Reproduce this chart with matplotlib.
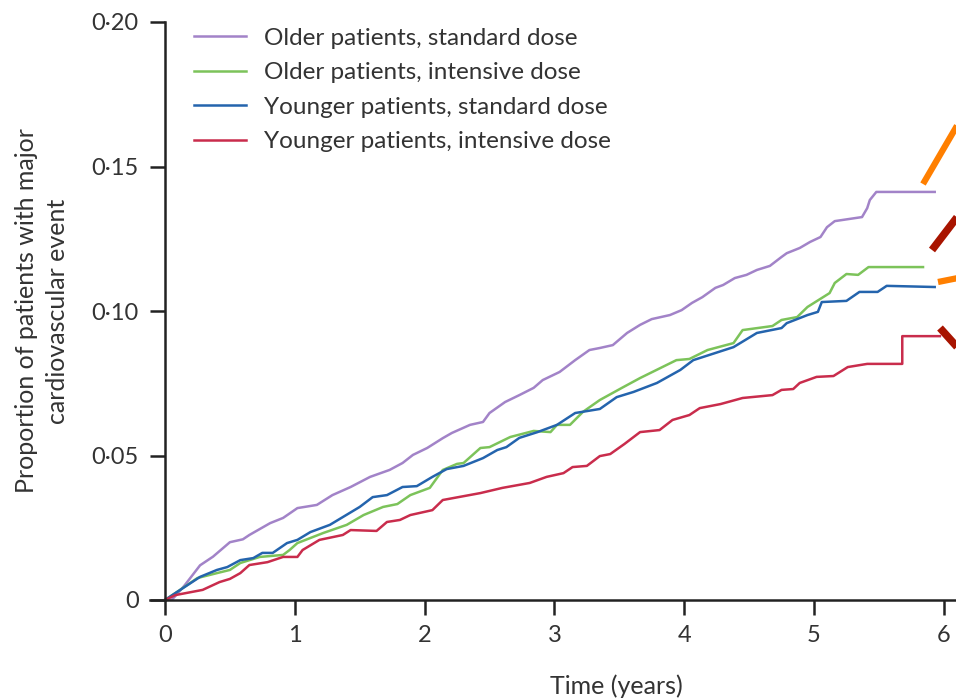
import matplotlib.pyplot as plt
from matplotlib.lines import Line2D

plt.rcParams['font.family'] = ['Lato', 'DejaVu Sans']

# Kaplan-Meier style curves (time in years, proportion)
older_std_t = [0, 0.05, 0.08, 0.15, 0.27, 0.37, 0.50, 0.60, 0.65, 0.81, 0.91, 1.02, 1.17, 1.29, 1.43, 1.58,
               1.73, 1.83, 1.91, 2.02, 2.14, 2.21, 2.35, 2.45, 2.50, 2.62, 2.73, 2.84, 2.91, 3.04, 3.16, 3.27,
               3.35, 3.45, 3.56, 3.66, 3.75, 3.89, 3.98, 4.06, 4.14, 4.24, 4.30, 4.39, 4.48, 4.56, 4.66, 4.75,
               4.79, 4.89, 4.97, 5.05, 5.10, 5.16, 5.37, 5.41, 5.43, 5.48, 5.93]
older_std_p = [0, 0, 0.0014, 0.005, 0.012, 0.015, 0.020, 0.021, 0.0225, 0.0266, 0.0284, 0.0318, 0.0329, 0.0363,
               0.0391, 0.0426, 0.045, 0.0474, 0.0502, 0.0526, 0.056, 0.0578, 0.0606, 0.0616, 0.0647, 0.0685,
               0.0709, 0.0734, 0.0761, 0.0789, 0.083, 0.0865, 0.0872, 0.0882, 0.0924, 0.0952, 0.0972, 0.0986,
               0.1003, 0.1028, 0.1048, 0.108, 0.109, 0.1114, 0.1125, 0.1142, 0.1156, 0.1187, 0.120, 0.1218,
               0.1239, 0.1256, 0.129, 0.1311, 0.1325, 0.1356, 0.1384, 0.1412, 0.1412]

older_int_t = [0, 0.08, 0.25, 0.40, 0.50, 0.58, 0.73, 0.91, 0.96, 1.02, 1.22, 1.40, 1.53, 1.68, 1.79, 1.89,
               2.04, 2.14, 2.25, 2.30, 2.43, 2.50, 2.66, 2.84, 2.97, 3.02, 3.12, 3.22, 3.35, 3.52, 3.66, 3.80,
               3.94, 4.04, 4.18, 4.38, 4.45, 4.68, 4.75, 4.87, 4.95, 5.12, 5.16, 5.25, 5.34, 5.42, 5.84]
older_int_p = [0, 0.0024, 0.0076, 0.0093, 0.0104, 0.0128, 0.0149, 0.0156, 0.0173, 0.0197, 0.0232, 0.026,
               0.0294, 0.0322, 0.0332, 0.0363, 0.0388, 0.045, 0.0471, 0.0474, 0.0526, 0.0529, 0.0564, 0.0585,
               0.0581, 0.0606, 0.0606, 0.0651, 0.0692, 0.0734, 0.0768, 0.0799, 0.083, 0.0834, 0.0865, 0.0889,
               0.0934, 0.0948, 0.0969, 0.0979, 0.1014, 0.1062, 0.1097, 0.1128, 0.1125, 0.1152, 0.1152]

young_std_t = [0, 0.08, 0.27, 0.40, 0.48, 0.58, 0.68, 0.75, 0.83, 0.94, 1.02, 1.12, 1.27, 1.50, 1.60, 1.71,
               1.83, 1.94, 2.06, 2.17, 2.30, 2.45, 2.56, 2.63, 2.73, 2.87, 3.02, 3.16, 3.35, 3.48, 3.61, 3.79,
               3.97, 4.07, 4.38, 4.56, 4.75, 4.79, 4.95, 5.03, 5.06, 5.25, 5.35, 5.49, 5.56, 5.93]
young_std_p = [0, 0.0024, 0.008, 0.0104, 0.0114, 0.0138, 0.0145, 0.0163, 0.0163, 0.0197, 0.0208, 0.0235,
               0.026, 0.0322, 0.0356, 0.0363, 0.0391, 0.0394, 0.0426, 0.0453, 0.0464, 0.0491, 0.0519, 0.0529,
               0.0561, 0.0581, 0.0606, 0.0647, 0.0661, 0.0702, 0.072, 0.0751, 0.0796, 0.083, 0.0875, 0.0924,
               0.0941, 0.0958, 0.0986, 0.0997, 0.1031, 0.1035, 0.1066, 0.1066, 0.1087, 0.1083]

young_int_t = [0, 0.08, 0.29, 0.42, 0.50, 0.58, 0.65, 0.79, 0.91, 1.02, 1.06, 1.19, 1.37, 1.43, 1.63, 1.71,
               1.81, 1.89, 2.06, 2.14, 2.43, 2.60, 2.81, 2.94, 3.07, 3.14, 3.25, 3.35, 3.43, 3.54, 3.66, 3.81,
               3.91, 4.04, 4.12, 4.28, 4.45, 4.68, 4.75, 4.84, 4.89, 5.02, 5.15, 5.26, 5.41, 5.68, 5.68, 5.97]
young_int_p = [0, 0.0017, 0.0035, 0.0062, 0.0073, 0.0093, 0.0121, 0.0131, 0.0149, 0.0149, 0.0173, 0.0208,
               0.0225, 0.0242, 0.0239, 0.027, 0.0277, 0.0294, 0.0311, 0.0346, 0.037, 0.0388, 0.0405, 0.0426,
               0.0439, 0.046, 0.0464, 0.0498, 0.0505, 0.054, 0.0581, 0.0588, 0.0623, 0.064, 0.0664, 0.0678,
               0.0699, 0.0709, 0.0727, 0.073, 0.0751, 0.0772, 0.0775, 0.0806, 0.0817, 0.0817, 0.0913, 0.0913]

labels = ['Older patients, standard dose', 'Older patients, intensive dose',
          'Younger patients, standard dose', 'Younger patients, intensive dose']
colors = ['#a283c8', '#7cc35a', '#2464ad', '#c92c4c']
xticks = [0, 1, 2, 3, 4, 5, 6]
yticks = [0, 0.05, 0.10, 0.15, 0.20]
ytick_labels = ['0', '0·05', '0·10', '0·15', '0·20']

fig = plt.figure(figsize=(9.56, 6.99), dpi=100)
ax = fig.add_axes([150 / 956, 99 / 699, 806 / 956, 578 / 699])

series = [(older_std_t, older_std_p), (older_int_t, older_int_p),
          (young_std_t, young_std_p), (young_int_t, young_int_p)]
for (t, p), c, lab in zip(series, colors, labels):
    ax.plot(t, p, color=c, lw=1.8, label=lab)

ax.set_xlim(-0.1156, 6.094)
ax.set_ylim(0, 0.2)
ax.spines['top'].set_visible(False)
ax.spines['right'].set_visible(False)
ax.spines['left'].set_position(('data', 0))
for s in ['left', 'bottom']:
    ax.spines[s].set_linewidth(1.8)
    ax.spines[s].set_color('#222222')
ax.set_xticks(xticks)
ax.set_yticks(yticks)
ax.set_yticklabels(ytick_labels)
ax.tick_params(axis='both', length=11, width=1.8, color='#222222', labelsize=17, labelcolor='#333333')
ax.tick_params(axis='x', pad=7)
ax.tick_params(axis='y', pad=8)

leg = ax.legend(loc='upper left', bbox_to_anchor=(0.054, 0.9905), frameon=False, fontsize=17.5,
                handlelength=2.14, handletextpad=0.75, labelspacing=0.56, borderpad=0, borderaxespad=0)
for txt in leg.get_texts():
    txt.set_color('#333333')

fig.text(42 / 956, 1 - 311 / 699, 'Proportion of patients with major\ncardiovascular event',
         rotation=90, ha='center', va='center', multialignment='center', fontsize=18, color='#333333',
         linespacing=1.4)
fig.text(616 / 956, 1 - 686 / 699, 'Time (years)', ha='center', va='center', fontsize=18, color='#333333')

# cropped annotation strokes at the right edge
for (x0, y0, x1, y1), c, w in [((923, 184, 958, 124), '#ff7f00', 4.5), ((932, 250, 958, 216), '#a81400', 5.5),
                               ((938, 282, 958, 278), '#ff7f00', 4.5), ((940, 328, 958, 348), '#a81400', 5.5)]:
    fig.add_artist(Line2D([x0 / 956, x1 / 956], [1 - y0 / 699, 1 - y1 / 699], color=c, lw=w,
                          solid_capstyle='butt', transform=fig.transFigure))

fig.savefig('out.png', dpi=100)
